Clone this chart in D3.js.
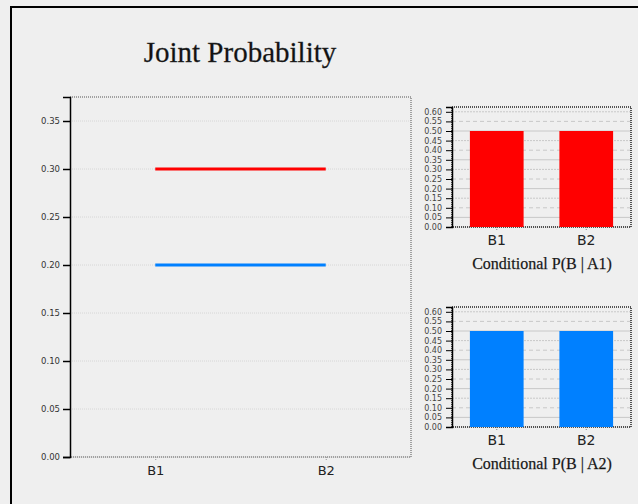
<!DOCTYPE html>
<html><head><meta charset="utf-8">
<script src="https://cdn.jsdelivr.net/npm/d3@7"></script>
<style>
html,body{margin:0;padding:0;background:#efefef;}
svg{display:block;}
</style></head>
<body>
<svg id="c" width="638" height="504"></svg>
<script>
const categories = ["B1", "B2"];
const jointA1 = [0.30, 0.30];
const jointA2 = [0.20, 0.20];
const condA1 = [0.50, 0.50];
const condA2 = [0.50, 0.50];
const mainTicks = [0.00, 0.05, 0.10, 0.15, 0.20, 0.25, 0.30, 0.35];
const smallTicks = [0.00, 0.05, 0.10, 0.15, 0.20, 0.25, 0.30, 0.35, 0.40, 0.45, 0.50, 0.55, 0.60];
const title = "Joint Probability";
const condTitles = ["Conditional P(B | A1)", "Conditional P(B | A2)"];
const colors = ["#ff0000", "#0080ff"];

const svg = d3.select("#c");
const bg = "#efefef";
svg.append("rect").attr("width", 638).attr("height", 504).attr("fill", bg);
// outer frame
svg.append("path").attr("d", "M11,504 V7 H638").attr("fill", "none").attr("stroke", "#000").attr("stroke-width", 2);

svg.append("text").attr("x", 240).attr("y", 62).attr("text-anchor", "middle")
  .attr("font-family", "Liberation Serif, Times New Roman, serif").attr("font-size", 29)
  .attr("fill", "#111").attr("stroke", "#333").attr("stroke-width", 0.3).text(title);

// ---- main chart ----
const M = {l: 70, t: 97, r: 411, b: 457};
const x = d3.scalePoint().domain(categories).range([M.l, M.r]).padding(0.5);
const y = d3.scaleLinear().domain([0, 0.375]).range([M.b, M.t]);

const g = svg.append("g");
// grid
g.selectAll("line.grid").data(mainTicks).join("line")
  .attr("x1", M.l).attr("x2", M.r).attr("y1", d => y(d)).attr("y2", d => y(d))
  .attr("stroke", "#d6d6d6").attr("stroke-width", 1).attr("stroke-dasharray", "1,1");
// frame top/right/bottom dotted
g.append("path").attr("d", `M${M.l},${M.t} H${M.r} V${M.b} H${M.l}`)
  .attr("fill", "none").attr("stroke", "#888").attr("stroke-width", 1.5).attr("stroke-dasharray", "1,1");

const yAxis = d3.axisLeft(y).tickValues(mainTicks).tickFormat(d3.format(".2f")).tickSize(7).tickPadding(3);
const ya = g.append("g").attr("transform", `translate(${M.l},0)`).call(yAxis);
ya.select(".domain").attr("stroke", "#000").attr("stroke-width", 1.5);
ya.selectAll(".tick line").attr("stroke", "#000").attr("stroke-width", 1.5);
ya.selectAll(".tick text").attr("font-family", "DejaVu Sans, sans-serif").attr("font-size", 8.5).attr("fill", "#333");

const xAxis = d3.axisBottom(x).tickSize(4).tickPadding(5);
const xa = g.append("g").attr("transform", `translate(0,${M.b})`).call(xAxis);
xa.select(".domain").remove();
xa.selectAll(".tick line").attr("stroke", "#999").attr("stroke-dasharray", "1,1");
xa.selectAll(".tick text").attr("font-family", "DejaVu Sans, sans-serif").attr("font-size", 13).attr("fill", "#222");

const line = d3.line().x((d, i) => x(categories[i])).y(d => y(d));
[jointA1, jointA2].forEach((s, k) => {
  g.append("path").datum(s).attr("d", line).attr("fill", "none")
    .attr("stroke", colors[k]).attr("stroke-width", 3);
});

// ---- small charts ----
function small(top, values, color, label) {
  const P = {l: 452, r: 631, t: top, b: top + 120};
  const xs = d3.scaleBand().domain(categories).range([P.l, P.r]).paddingInner(0.4).paddingOuter(0.2);
  const ys = d3.scaleLinear().domain([0, 0.625]).range([P.b, P.t]);
  const s = svg.append("g");
  s.selectAll("line.grid").data(smallTicks).join("line")
    .attr("x1", P.l).attr("x2", P.r).attr("y1", d => ys(d)).attr("y2", d => ys(d))
    .attr("stroke", "#c8c8c8").attr("stroke-width", 1)
    .attr("stroke-dasharray", (d, i) => i % 3 === 0 ? "2,1" : (i % 3 === 1 ? null : "4,3"));
  s.append("rect").attr("x", P.l).attr("y", P.t).attr("width", P.r - P.l).attr("height", P.b - P.t)
    .attr("fill", "none").attr("stroke", "#222").attr("stroke-width", 1.5).attr("stroke-dasharray", "1,1");
  s.selectAll("rect.bar").data(values).join("rect")
    .attr("x", (d, i) => xs(categories[i])).attr("width", xs.bandwidth())
    .attr("y", d => ys(d)).attr("height", d => P.b - ys(d)).attr("fill", color);
  const ax = d3.axisLeft(ys).tickValues(smallTicks).tickFormat(d3.format(".2f")).tickSize(6).tickPadding(4);
  const a = s.append("g").attr("transform", `translate(${P.l},0)`).call(ax);
  a.select(".domain").attr("stroke", "#000").attr("stroke-width", 1.5);
  a.selectAll(".tick line").attr("stroke", "#000");
  a.selectAll(".tick text").attr("font-family", "DejaVu Sans, sans-serif").attr("font-size", 8).attr("fill", "#444");
  const bx = d3.axisBottom(xs).tickSize(3).tickPadding(5);
  const b = s.append("g").attr("transform", `translate(0,${P.b})`).call(bx);
  b.select(".domain").remove();
  b.selectAll(".tick line").attr("stroke", "#888").attr("stroke-dasharray", "1,1");
  b.selectAll(".tick text").attr("font-family", "DejaVu Sans, sans-serif").attr("font-size", 14).attr("fill", "#222");
  s.append("text").attr("x", (P.l + P.r) / 2 + 0.5).attr("y", P.b + 42).attr("text-anchor", "middle")
    .attr("font-family", "Liberation Serif, Times New Roman, serif").attr("font-size", 16)
    .attr("fill", "#111").attr("stroke", "#333").attr("stroke-width", 0.25).text(label);
}
small(107, condA1, colors[0], condTitles[0]);
small(307, condA2, colors[1], condTitles[1]);
</script>
</body></html>
